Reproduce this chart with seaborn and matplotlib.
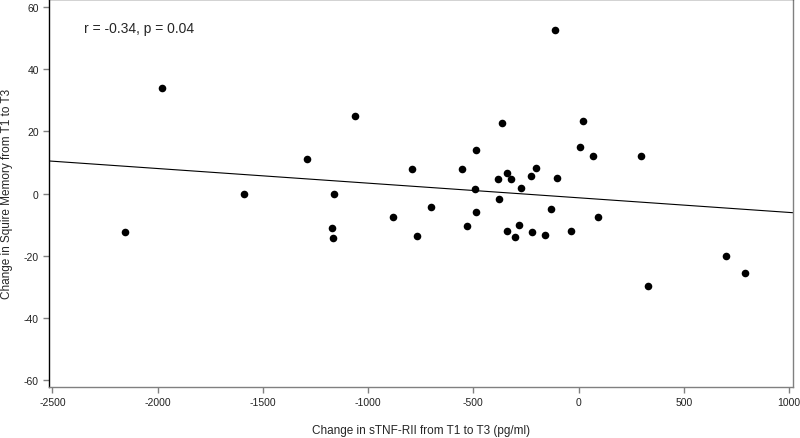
import numpy as np
import pandas as pd
import matplotlib
matplotlib.use("Agg")
import matplotlib.pyplot as plt
import seaborn as sns

# --- dados ---
change_stnf = [-2155, -1980, -1590, -1290, -1172, -1167, -1160, -1060, -880, -790,
               -769, -703, -555, -532, -491, -488, -485, -385, -376, -365,
               -341, -341, -322, -302, -283, -272, -224, -219, -200, -160,
               -131, -112, -104, -35, 5, 20, 70, 93, 297, 330, 700, 791]
change_squire = [-12.2, 34, 0, 11, -11.1, -14.2, 0, 25, -7.4, 8,
                 -13.6, -4.2, 7.8, -10.5, 1.5, -5.8, 14, 4.8, -1.8, 22.5,
                 6.5, -12.1, 4.8, -14.1, -10.2, 1.9, 5.5, -12.2, 8.2, -13.3,
                 -5.1, 52.5, 5, -11.9, 15, 23.3, 11.9, -7.7, 11.9, -29.8, -20.2, -25.6]
x_ticks = [-2500, -2000, -1500, -1000, -500, 0, 500, 1000]
y_ticks = [-60, -40, -20, 0, 20, 40, 60]
annot_text = "r = -0.34, p = 0.04"

df = pd.DataFrame({"stnf": change_stnf, "squire": change_squire})

sns.set_theme(style="white")
plt.rcParams["font.family"] = ["Liberation Sans", "DejaVu Sans"]
plt.rcParams["axes.unicode_minus"] = False

fig, ax = plt.subplots(figsize=(8, 4.39), dpi=100)
fig.subplots_adjust(left=0.0615, right=0.991, top=0.999, bottom=0.117)

# limites antes do regplot para a reta cobrir todo o eixo x
ax.set_xlim(-2515, 1018)
ax.set_ylim(-62, 62.3)

sns.regplot(data=df, x="stnf", y="squire", ax=ax, ci=None, truncate=False,
            scatter_kws={"s": 30, "color": "black", "linewidths": 0, "alpha": 1},
            line_kws={"color": "black", "linewidth": 0.8})

ax.set_xlim(-2515, 1018)
ax.set_ylim(-62, 62.3)
ax.set_xticks(x_ticks)
ax.set_yticks(y_ticks)
ax.tick_params(axis="both", labelsize=7.5, colors="#808080", labelcolor="#222222",
               length=4, width=1, direction="out", bottom=True, left=True)
ax.set_xlabel("Change in sTNF-RII from T1 to T3 (pg/ml)", fontsize=8.5, labelpad=12)
ax.set_ylabel("Change in Squire Memory from T1 to T3", fontsize=8.5, labelpad=8)

ax.spines["left"].set_color("black")
ax.spines["top"].set_color("#222222")
ax.spines["bottom"].set_color("#808080")
ax.spines["right"].set_color("#808080")
for s in ax.spines.values():
    s.set_linewidth(1)

ax.text(-2350, 53, annot_text, fontsize=10, va="center", ha="left")

plt.savefig("out.png", dpi=100)
